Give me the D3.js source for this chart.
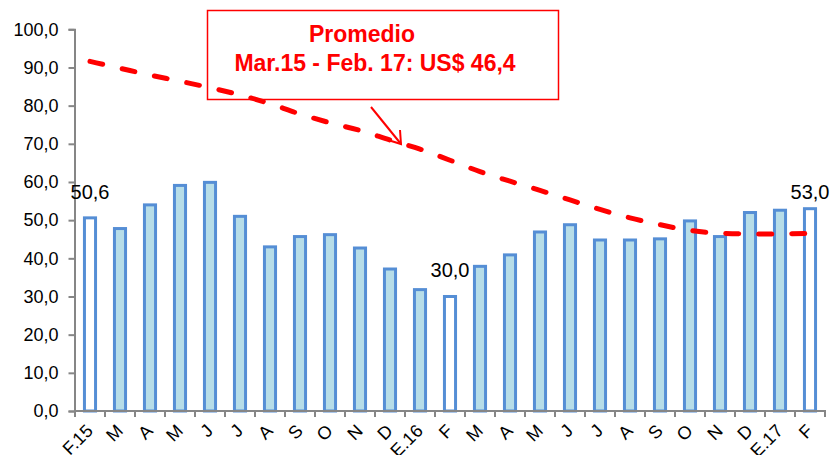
<!DOCTYPE html>
<html>
<head>
<meta charset="utf-8">
<script src="https://cdn.jsdelivr.net/npm/d3@7"></script>
<style>
  html, body { margin: 0; padding: 0; background: #fff; }
  svg { display: block; font-family: "Liberation Sans", Arial, sans-serif; }
</style>
</head>
<body>
<svg id="chart" width="831" height="455"></svg>
<script>
// ---- data ----
const months = ["F.15","M","A","M","J","J","A","S","O","N","D","E.16","F","M","A","M","J","J","A","S","O","N","D","E.17","F"];
const prices = [50.6,47.8,54.0,59.1,59.9,51.0,43.0,45.7,46.2,42.7,37.2,31.8,30.0,37.9,40.9,46.9,48.8,44.8,44.8,45.1,49.8,45.7,52.0,52.6,53.0];
const highlighted = [0, 12, 24];
const trend = [91.6,89.8,88.0,86.4,84.7,82.8,80.5,77.8,75.5,73.5,71.0,68.6,65.7,62.7,60.2,57.8,55.3,52.8,50.6,48.8,47.3,46.6,46.4,46.4,46.5];
const labelled = [{i:0, text:"50,6", y:55.5}, {i:12, text:"30,0", y:35.0}, {i:24, text:"53,0", y:55.5}];
const yTicks = [0,10,20,30,40,50,60,70,80,90,100];
const noteLines = ["Promedio", "Mar.15 - Feb. 17: US$ 46,4"];

// ---- layout ----
const svg = d3.select("#chart");
const x = d3.scaleBand().domain(d3.range(months.length)).range([75, 825]).paddingInner(0.63).paddingOuter(0.315);
const y = d3.scaleLinear().domain([0, 100]).range([411, 29.3]);
const fmt = v => d3.format(".1f")(v).replace(".", ",");
const cx = i => x(i) + x.bandwidth() / 2;
const axisColor = "#868686";

// y axis
const yAxis = svg.append("g").attr("transform", "translate(74.5,0)")
  .call(d3.axisLeft(y).tickValues(yTicks).tickSize(6).tickPadding(10).tickFormat(fmt));
yAxis.select(".domain").attr("stroke", axisColor).attr("stroke-width", 2);
yAxis.selectAll(".tick line").attr("stroke", axisColor).attr("stroke-width", 2);
yAxis.selectAll(".tick text").attr("font-size", 18).attr("fill", "#000")
  .attr("font-family", "Liberation Sans, Arial, sans-serif");

// bars
svg.append("g").selectAll("rect").data(prices).join("rect")
  .attr("x", (d, i) => x(i))
  .attr("y", d => y(d))
  .attr("width", x.bandwidth())
  .attr("height", d => y(0) - y(d))
  .attr("fill", (d, i) => highlighted.includes(i) ? "#ffffff" : "#b7dde8")
  .attr("stroke", "#558ed5")
  .attr("stroke-width", 3);

// x axis
const step = x.step();
const boundaries = d3.range(months.length + 1).map(i => x.range()[0] + i * step);
const xg = svg.append("g");
xg.append("line").attr("x1", 74).attr("x2", 826).attr("y1", y(0)).attr("y2", y(0))
  .attr("stroke", axisColor).attr("stroke-width", 2);
xg.selectAll("line.tk").data(boundaries).join("line").attr("class", "tk")
  .attr("x1", d => d).attr("x2", d => d).attr("y1", y(0)).attr("y2", y(0) + 6)
  .attr("stroke", axisColor).attr("stroke-width", 2);
xg.selectAll("text").data(months).join("text")
  .attr("transform", (d, i) => `translate(${cx(i) + 4},${y(0) + 21}) rotate(-45)`)
  .attr("text-anchor", "end")
  .attr("font-size", 18)
  .attr("fill", "#000")
  .text(d => d);

// data labels
svg.append("g").selectAll("text").data(labelled).join("text")
  .attr("x", d => cx(d.i))
  .attr("y", d => y(d.y))
  .attr("text-anchor", "middle")
  .attr("font-size", 20)
  .attr("fill", "#000")
  .text(d => d.text);

// annotation box
svg.append("rect").attr("x", 207.5).attr("y", 10.5).attr("width", 351).attr("height", 89)
  .attr("fill", "#fff").attr("stroke", "#ff0000").attr("stroke-width", 1.5);
svg.append("text").attr("x", 362).attr("y", 42).attr("text-anchor", "middle")
  .attr("font-size", 23).attr("font-weight", "bold").attr("fill", "#ff0000").text(noteLines[0]);
svg.append("text").attr("x", 375).attr("y", 71).attr("text-anchor", "middle")
  .attr("font-size", 23).attr("font-weight", "bold").attr("fill", "#ff0000").text(noteLines[1]);

// arrow
svg.append("line").attr("x1", 371).attr("y1", 107).attr("x2", 401).attr("y2", 144)
  .attr("stroke", "#ff0000").attr("stroke-width", 2);
svg.append("path").attr("d", "M388,140 L401,144 L400,130")
  .attr("fill", "none").attr("stroke", "#ff0000").attr("stroke-width", 2);

// dashed trend line
const line = d3.line().x((d, i) => cx(i)).y(d => y(d)).curve(d3.curveMonotoneX);
svg.append("path").datum(trend).attr("d", line)
  .attr("fill", "none").attr("stroke", "#ff0000").attr("stroke-width", 5)
  .attr("stroke-linecap", "round").attr("stroke-dasharray", "13,20");
</script>
</body>
</html>
